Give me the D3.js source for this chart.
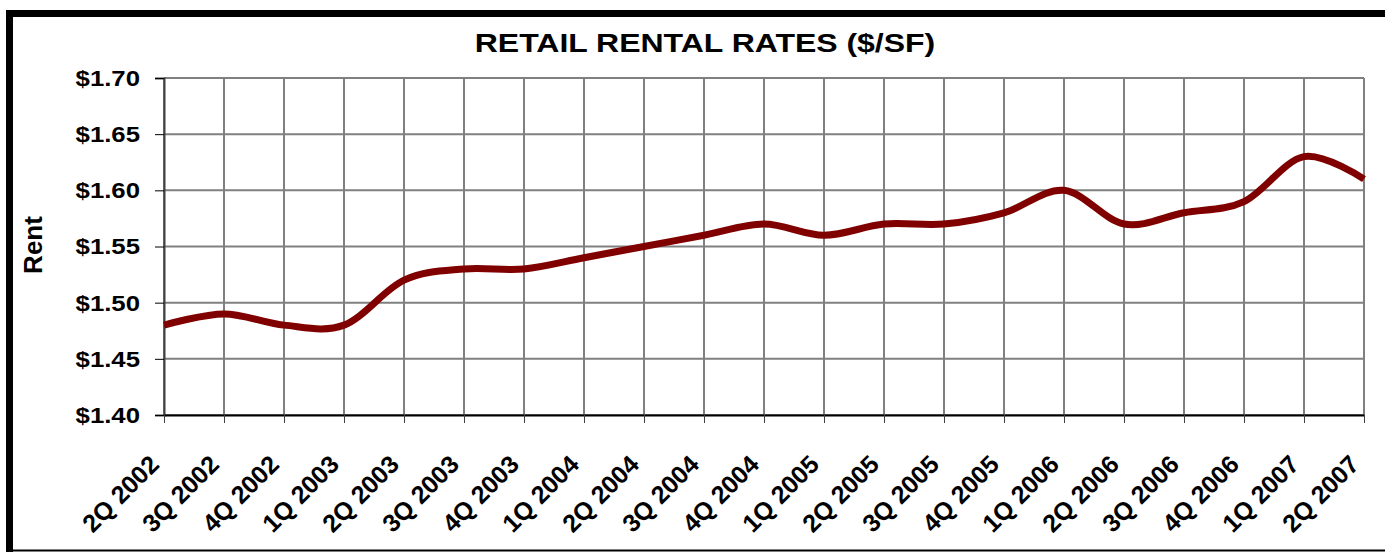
<!DOCTYPE html>
<html>
<head>
<meta charset="utf-8">
<script src="https://cdn.jsdelivr.net/npm/d3@7"></script>
<style>
  body { margin: 0; background: #fff; }
  text { font-family: Arial, "Liberation Sans", sans-serif; font-weight: bold; }
</style>
</head>
<body>
<script>
// quarters and rent values
var quarters = ["2Q 2002", "3Q 2002", "4Q 2002", "1Q 2003", "2Q 2003", "3Q 2003", "4Q 2003",
  "1Q 2004", "2Q 2004", "3Q 2004", "4Q 2004", "1Q 2005", "2Q 2005", "3Q 2005", "4Q 2005",
  "1Q 2006", "2Q 2006", "3Q 2006", "4Q 2006", "1Q 2007", "2Q 2007"];
var rents = [1.48, 1.49, 1.48, 1.48, 1.52, 1.53, 1.53, 1.54, 1.55, 1.56, 1.57, 1.56, 1.57,
  1.57, 1.58, 1.60, 1.57, 1.58, 1.59, 1.63, 1.61];
var yTicks = [1.40, 1.45, 1.50, 1.55, 1.60, 1.65, 1.70];

var width = 1385;
var height = 552;
var plotL = 164, plotR = 1364, plotT = 78, plotB = 415;

var svg = d3.select("body")
    .append("svg")
        .attr("width", width)
        .attr("height", height);

// outer frame: thick left/top, thin bottom, right runs off the page
svg.append("path")
    .attr("d", "M9.5,556 L9.5,13.5 L1390,13.5")
    .attr("fill", "none")
    .attr("stroke", "black")
    .attr("stroke-width", 7);
svg.append("line")
    .attr("x1", 9).attr("x2", 1385)
    .attr("y1", 550.5).attr("y2", 550.5)
    .attr("stroke", "black").attr("stroke-width", 2);

var x = d3.scalePoint()
    .domain(quarters)
    .range([plotL, plotR]);

var y = d3.scaleLinear()
    .domain([1.40, 1.70])
    .range([plotB, plotT]);

// grid
svg.append("g")
  .selectAll("line")
  .data(yTicks)
  .enter().append("line")
    .attr("x1", plotL).attr("x2", plotR)
    .attr("y1", function(d) { return y(d); })
    .attr("y2", function(d) { return y(d); })
    .attr("stroke", "#808080")
    .attr("stroke-width", 2);

svg.append("g")
  .selectAll("line")
  .data(quarters)
  .enter().append("line")
    .attr("x1", function(d) { return x(d); })
    .attr("x2", function(d) { return x(d); })
    .attr("y1", plotT).attr("y2", plotB)
    .attr("stroke", "#808080")
    .attr("stroke-width", 2);

// axes
var yAxis = svg.append("g")
    .attr("transform", "translate(" + plotL + ",0)")
    .call(d3.axisLeft(y)
      .tickValues(yTicks)
      .tickSize(9)
      .tickPadding(15)
      .tickFormat(function(d) { return "$" + d.toFixed(2); }));
yAxis.select(".domain").attr("stroke", "#404040").attr("stroke-width", 2);
yAxis.selectAll(".tick line").attr("stroke", "black");
yAxis.selectAll("text")
    .attr("font-size", 23)
    .attr("fill", "black")
    .attr("font-family", "Arial, 'Liberation Sans', sans-serif")
    .attr("x", -24 / 1.12)
    .attr("transform", "scale(1.12,1)");

var xAxis = svg.append("g")
    .attr("transform", "translate(0," + plotB + ")")
    .call(d3.axisBottom(x).tickSize(8).tickSizeOuter(0));
xAxis.select(".domain").attr("stroke", "black").attr("stroke-width", 2);
xAxis.selectAll(".tick line").attr("stroke", "#404040");
xAxis.selectAll("text")
    .attr("font-size", 25)
    .attr("fill", "black")
    .attr("font-family", "Arial, 'Liberation Sans', sans-serif")
    .attr("text-anchor", "end")
    .attr("dy", null)
    .attr("y", 0)
    .attr("transform", "translate(-4,51) rotate(-45)");

// smoothed line
var line = d3.line()
    .curve(d3.curveCardinal.tension(0))
    .x(function(d, i) { return x(quarters[i]); })
    .y(function(d) { return y(d); });

svg.append("path")
    .datum(rents)
    .attr("d", line)
    .attr("fill", "none")
    .attr("stroke", "#800000")
    .attr("stroke-width", 7);

// title and y label
svg.append("text")
    .attr("transform", "translate(705,52) scale(1.23,1)")
    .attr("text-anchor", "middle")
    .attr("font-size", 26)
    .text("RETAIL RENTAL RATES ($/SF)");

svg.append("text")
    .attr("transform", "translate(42,245) rotate(-90)")
    .attr("text-anchor", "middle")
    .attr("font-size", 26)
    .text("Rent");
</script>
</body>
</html>
